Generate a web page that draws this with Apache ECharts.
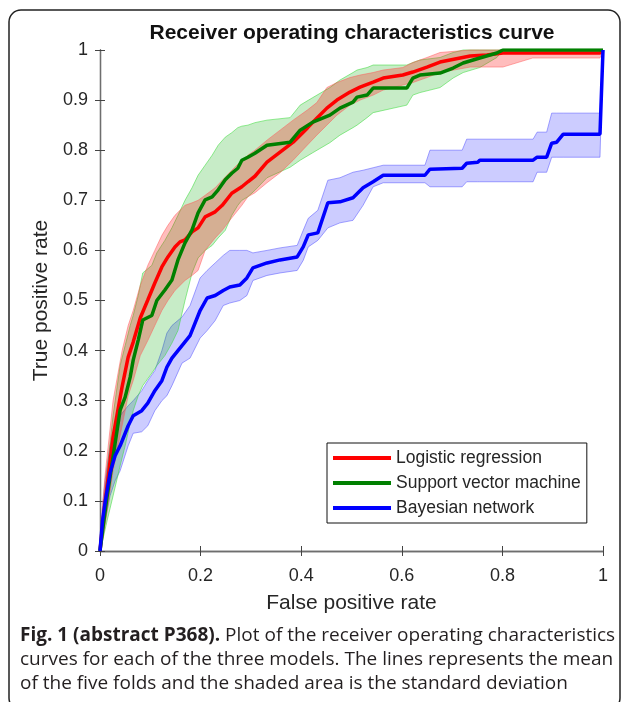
<!DOCTYPE html>
<html>
<head>
<meta charset="utf-8">
<script src="https://cdn.jsdelivr.net/npm/echarts@6/dist/echarts.min.js"></script>
<style>
html,body{margin:0;padding:0;background:#fff;}
#chart{width:627px;height:702px;}
</style>
</head>
<body>
<div id="chart"></div>
<script>
// ---- data ----
const xTicks = [0, 0.2, 0.4, 0.6, 0.8, 1];
const yTicks = [0, 0.1, 0.2, 0.3, 0.4, 0.5, 0.6, 0.7, 0.8, 0.9, 1];
const seriesNames = ['Logistic regression', 'Support vector machine', 'Bayesian network'];

// Logistic regression
const fprLR  = [0,0.005,0.01,0.026,0.044,0.056,0.066,0.08,0.095,0.109,0.123,0.135,0.149,0.159,0.169,0.183,0.195,0.209,0.229,0.243,0.262,0.282,0.294,0.308,0.332,0.358,0.384,0.412,0.431,0.451,0.471,0.497,0.517,0.543,0.563,0.602,0.622,0.65,0.676,0.736,0.769,0.801,0.86,0.994,1.0];
const meanLR = [0,0.05,0.096,0.228,0.328,0.387,0.417,0.465,0.501,0.535,0.567,0.587,0.607,0.617,0.621,0.637,0.645,0.667,0.677,0.69,0.714,0.727,0.737,0.748,0.776,0.796,0.816,0.844,0.864,0.884,0.9,0.916,0.926,0.936,0.944,0.95,0.956,0.966,0.976,0.988,0.99,0.994,0.994,0.994,1.0];
const lowLR  = [0,0.02,0.05,0.16,0.25,0.31,0.34,0.39,0.42,0.45,0.48,0.50,0.52,0.53,0.54,0.55,0.56,0.60,0.625,0.64,0.665,0.69,0.707,0.715,0.735,0.755,0.78,0.81,0.83,0.85,0.87,0.89,0.90,0.91,0.92,0.93,0.935,0.945,0.955,0.966,0.966,0.966,0.984,0.984,1.0];
const upLR   = [0,0.09,0.15,0.30,0.40,0.45,0.48,0.53,0.57,0.60,0.63,0.65,0.67,0.68,0.69,0.695,0.70,0.71,0.725,0.74,0.76,0.78,0.79,0.80,0.82,0.84,0.86,0.88,0.895,0.925,0.935,0.945,0.95,0.955,0.96,0.965,0.975,0.985,0.995,1.0,1.0,1.0,1.0,1.0,1.0];

// Support vector machine
const fprSVM  = [0,0.005,0.014,0.026,0.04,0.05,0.06,0.066,0.076,0.085,0.103,0.113,0.129,0.143,0.155,0.169,0.183,0.195,0.209,0.223,0.235,0.249,0.262,0.274,0.282,0.294,0.308,0.332,0.378,0.398,0.423,0.457,0.477,0.503,0.511,0.531,0.543,0.61,0.622,0.636,0.676,0.702,0.722,0.755,0.789,0.801,1.0];
const meanSVM = [0,0.04,0.108,0.188,0.281,0.307,0.347,0.381,0.421,0.461,0.47,0.5,0.521,0.541,0.581,0.615,0.641,0.675,0.701,0.707,0.721,0.741,0.754,0.764,0.78,0.786,0.794,0.81,0.816,0.84,0.856,0.87,0.884,0.896,0.906,0.91,0.924,0.924,0.944,0.95,0.954,0.964,0.974,0.984,0.994,1.0,1.0];
const lowSVM  = [0,0.02,0.06,0.11,0.17,0.21,0.255,0.28,0.31,0.33,0.355,0.37,0.39,0.415,0.44,0.50,0.555,0.585,0.60,0.61,0.625,0.64,0.67,0.69,0.70,0.707,0.72,0.745,0.766,0.78,0.795,0.815,0.83,0.845,0.85,0.865,0.875,0.89,0.91,0.915,0.925,0.944,0.955,0.965,0.985,1.0,1.0];
const upSVM   = [0,0.07,0.16,0.27,0.37,0.41,0.45,0.47,0.51,0.555,0.57,0.595,0.62,0.645,0.67,0.70,0.725,0.75,0.77,0.79,0.81,0.826,0.835,0.845,0.848,0.85,0.855,0.86,0.865,0.89,0.905,0.925,0.94,0.955,0.96,0.965,0.97,0.97,0.975,0.98,0.985,0.995,1.0,1.0,1.0,1.0,1.0];

// Bayesian network
const fprBN  = [0,0.005,0.01,0.02,0.03,0.04,0.056,0.066,0.083,0.095,0.109,0.123,0.133,0.143,0.163,0.179,0.199,0.213,0.229,0.245,0.258,0.278,0.292,0.304,0.332,0.358,0.392,0.404,0.414,0.433,0.453,0.477,0.503,0.523,0.543,0.563,0.646,0.656,0.72,0.729,0.751,0.755,0.861,0.869,0.888,0.898,0.908,0.921,0.994,1.0];
const meanBN = [0,0.06,0.096,0.156,0.19,0.21,0.25,0.27,0.28,0.295,0.32,0.34,0.367,0.385,0.41,0.43,0.48,0.505,0.51,0.52,0.527,0.531,0.545,0.565,0.575,0.581,0.587,0.607,0.631,0.635,0.695,0.697,0.705,0.725,0.737,0.75,0.75,0.762,0.764,0.774,0.776,0.78,0.78,0.786,0.786,0.814,0.816,0.832,0.832,1.0];
const lowBN  = [0,0.03,0.06,0.11,0.14,0.16,0.21,0.235,0.238,0.25,0.28,0.30,0.31,0.33,0.375,0.385,0.425,0.44,0.46,0.49,0.495,0.50,0.51,0.54,0.55,0.555,0.56,0.58,0.607,0.62,0.645,0.655,0.66,0.69,0.727,0.735,0.735,0.727,0.727,0.737,0.737,0.737,0.737,0.756,0.756,0.786,0.786,0.786,0.786,1.0];
const upBN   = [0,0.09,0.14,0.21,0.25,0.27,0.29,0.30,0.32,0.34,0.36,0.40,0.435,0.45,0.467,0.49,0.545,0.56,0.575,0.59,0.60,0.60,0.60,0.595,0.60,0.605,0.61,0.64,0.664,0.68,0.74,0.745,0.756,0.76,0.765,0.77,0.77,0.80,0.80,0.822,0.822,0.822,0.822,0.836,0.836,0.874,0.874,0.874,0.874,1.0];

// ---- chart ----
const FONT = '"Liberation Sans", Arial, sans-serif';
const chart = echarts.init(document.getElementById('chart'), null, {renderer: 'canvas'});

function pairs(xs, ys) { return xs.map((x, i) => [x, ys[i]]); }

function band(name, xs, lo, hi, fill, edge, z) {
  return {
    type: 'custom', name: name, silent: true, z: z,
    data: [[xs[0], lo[0]]],
    encode: {x: 0, y: 1},
    renderItem: function (params, api) {
      const top = xs.map((x, i) => api.coord([x, hi[i]]));
      const bot = xs.map((x, i) => api.coord([x, lo[i]])).reverse();
      return {
        type: 'polygon',
        shape: {points: top.concat(bot)},
        style: {fill: fill, stroke: edge, lineWidth: 1}
      };
    }
  };
}

function line(name, xs, ys, color, z) {
  return {
    type: 'line', name: name, data: pairs(xs, ys), z: z,
    symbol: 'none', showSymbol: false, silent: true,
    lineStyle: {color: color, width: 3.5}, itemStyle: {color: color}
  };
}

const axisLineStyle = {lineStyle: {color: '#6e6e6e', width: 1.3}};
const tickStyle = {inside: true, length: 5, lineStyle: {color: '#444', width: 1}};
const labelStyle = {color: '#262626', fontSize: 18, fontFamily: FONT};

const option = {
  animation: false,
  backgroundColor: '#fff',
  grid: {left: 100, top: 50, width: 503, height: 501, show: false},
  xAxis: [
    {type: 'value', min: 0, max: 1, interval: 0.2, position: 'bottom',
     axisLine: axisLineStyle, axisTick: tickStyle, splitLine: {show: false},
     axisLabel: Object.assign({margin: 16, formatter: v => String(+v.toFixed(1))}, labelStyle),
     name: 'False positive rate', nameLocation: 'middle', nameGap: 42,
     nameTextStyle: {color: '#262626', fontSize: 21, fontFamily: FONT}},
    {type: 'value', min: 0, max: 1, interval: 0.2, position: 'top',
     axisLine: axisLineStyle, axisTick: tickStyle, splitLine: {show: false},
     axisLabel: {show: false}}
  ],
  yAxis: [
    {type: 'value', min: 0, max: 1, interval: 0.1, position: 'left',
     axisLine: axisLineStyle, axisTick: tickStyle, splitLine: {show: false},
     axisLabel: Object.assign({margin: 12, formatter: v => String(+v.toFixed(1))}, labelStyle),
     name: 'True positive rate', nameLocation: 'middle', nameGap: 41,
     nameTextStyle: {color: '#262626', fontSize: 21, fontFamily: FONT}},
    {type: 'value', min: 0, max: 1, interval: 0.1, position: 'right',
     axisLine: axisLineStyle, axisTick: tickStyle, splitLine: {show: false},
     axisLabel: {show: false}}
  ],
  legend: {
    data: seriesNames.map(n => ({name: n, icon: 'rect'})),
    orient: 'vertical', left: 327, top: 443,
    backgroundColor: '#fff', borderColor: '#111', borderWidth: 1,
    padding: [6, 6, 6, 6], itemWidth: 58, itemHeight: 4, itemGap: 7,
    textStyle: {color: '#262626', fontSize: 17.5, fontFamily: FONT, lineHeight: 16},
    selectedMode: false
  },
  graphic: [
    {type: 'rect', shape: {x: 9, y: 10, width: 611, height: 700, r: 12},
     style: {fill: 'none', stroke: '#222', lineWidth: 1.5}, z: 100, silent: true},
    {type: 'text', x: 352, y: 33, z: 100,
     style: {text: 'Receiver operating characteristics curve', font: 'bold 21px ' + FONT,
             fill: '#111', textAlign: 'center', textVerticalAlign: 'middle'}},
    {type: 'text', x: 20, y: 636, z: 100,
     style: {text: '{b|Fig. 1 (abstract P368).} Plot of the receiver operating characteristics',
             font: '19px "Open Sans", sans-serif', fill: '#231f20', textVerticalAlign: 'middle',
             rich: {b: {fontWeight: 'bold', fontSize: 19, fontFamily: '"Open Sans", sans-serif', fill: '#231f20'}}}},
    {type: 'text', x: 20, y: 660, z: 100,
     style: {text: 'curves for each of the three models. The lines represents the mean',
             font: '19px "Open Sans", sans-serif', fill: '#231f20', textVerticalAlign: 'middle'}},
    {type: 'text', x: 20, y: 684, z: 100,
     style: {text: 'of the five folds and the shaded area is the standard deviation',
             font: '19px "Open Sans", sans-serif', fill: '#231f20', textVerticalAlign: 'middle'}}
  ],
  series: [
    band('BN band', fprBN, lowBN, upBN, 'rgba(0,0,255,0.2)', 'rgba(90,90,255,0.55)', 1),
    band('SVM band', fprSVM, lowSVM, upSVM, 'rgba(0,170,0,0.22)', 'rgba(60,220,60,0.55)', 2),
    band('LR band', fprLR, lowLR, upLR, 'rgba(255,0,0,0.26)', 'rgba(255,90,90,0.5)', 3),
    line(seriesNames[0], fprLR, meanLR, '#ff0000', 5),
    line(seriesNames[1], fprSVM, meanSVM, '#008000', 6),
    line(seriesNames[2], fprBN, meanBN, '#0000ff', 7)
  ]
};
chart.setOption(option);
</script>
</body>
</html>
